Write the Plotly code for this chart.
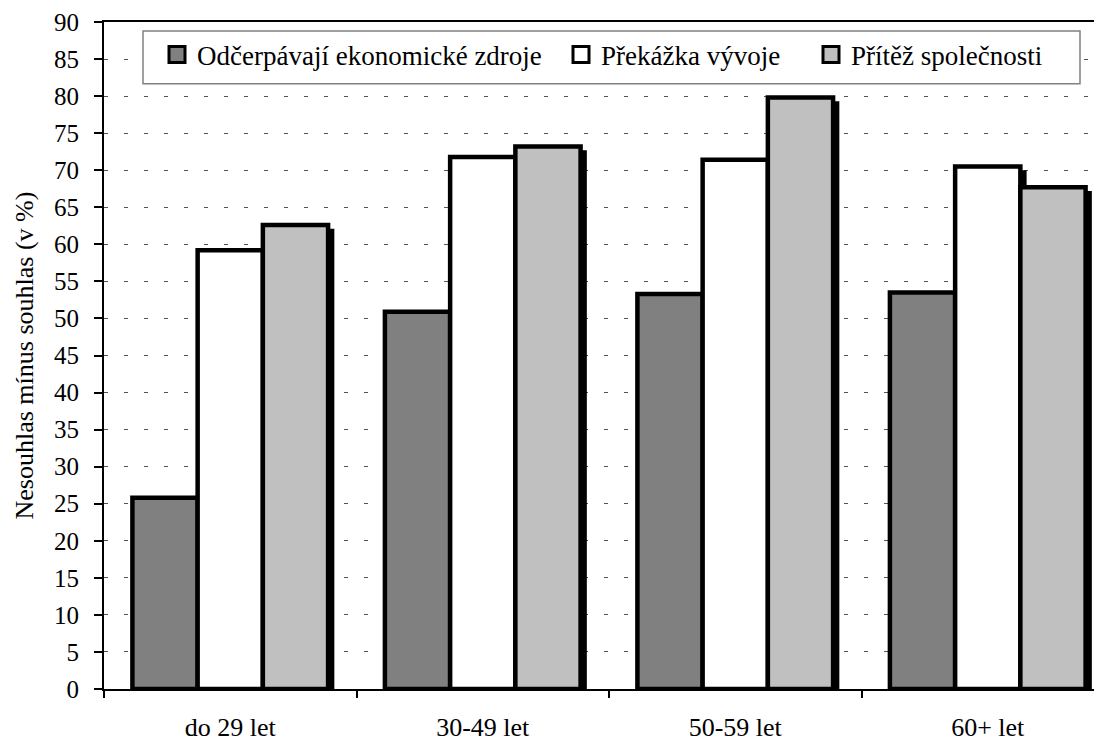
import plotly.graph_objects as go

categories = ["do 29 let", "30-49 let", "50-59 let", "60+ let"]
series_names = ["Odčerpávají ekonomické zdroje", "Překážka vývoje", "Přítěž společnosti"]
odcerpavaji = [25.8, 50.9, 53.3, 53.5]
prekazka = [59.2, 71.8, 71.4, 70.5]
pritez = [62.6, 73.2, 79.8, 67.7]
series_values = [odcerpavaji, prekazka, pritez]
colors = ["#808080", "#ffffff", "#c0c0c0"]
y_ticks = list(range(0, 95, 5))
y_title = "Nesouhlas mínus souhlas (v %)"

OFF = 8  # page body margin
WIN_W, WIN_H = 1102, 742
W, H = WIN_W - OFF, WIN_H - OFF
AX_LEFT, AX_TOP, AX_BOTTOM = 104, 22, 691  # window pixel positions of plot area
ML = AX_LEFT - OFF
MT = AX_TOP - OFF
MB = H - (AX_BOTTOM - OFF)
MR = 0
plot_w = W - ML - MR
plot_h = H - MT - MB
cat_px = 252.5
x_lo = -0.5
x_hi = x_lo + plot_w / cat_px
y_lo, y_hi = 0, 90

FONT = "Liberation Serif"
bargap = 0.225
n = len(series_values)
bw = (1 - bargap) / n
lw = 4.5

fig = go.Figure()

for i, (name, vals, col) in enumerate(zip(series_names, series_values, colors)):
    fig.add_trace(go.Bar(
        x=categories, y=vals, name=name, showlegend=False,
        marker=dict(color=col, line=dict(color="black", width=lw)),
    ))

# shadows (offset copies of each bar, drawn beneath bars)
dx = 4.0 / cat_px
dy = 6.0 * (y_hi - y_lo) / plot_h
for i, vals in enumerate(series_values):
    for k, v in enumerate(vals):
        c = k + (i - (n - 1) / 2) * bw
        fig.add_shape(type="rect", xref="x", yref="y",
                      x0=c - bw / 2 + dx, x1=c + bw / 2 + dx,
                      y0=y_lo, y1=v - dy,
                      fillcolor="black", line=dict(color="black", width=lw),
                      layer="between")


def px_to_paper_x(px):
    return (px - OFF - ML) / plot_w


def px_to_paper_y(py):
    return 1 - (py - OFF - MT) / plot_h


# legend box
fig.add_shape(type="rect", xref="paper", yref="paper",
              x0=px_to_paper_x(143), x1=px_to_paper_x(1080),
              y0=px_to_paper_y(84), y1=px_to_paper_y(31),
              fillcolor="white", line=dict(color="#808080", width=1.5),
              layer="above")

legend_x_px = [157, 561, 811]
legend_keys = ["legend", "legend2", "legend3"]
for name, col, key in zip(series_names, colors, legend_keys):
    fig.add_trace(go.Scatter(
        x=[None], y=[None], mode="markers", name=name, legend=key,
        marker=dict(symbol="square", size=16, color=col,
                    line=dict(color="black", width=3)),
    ))

layout_legends = {}
for key, lx in zip(legend_keys, legend_x_px):
    layout_legends[key] = dict(
        x=px_to_paper_x(lx), y=px_to_paper_y(55), xanchor="left", yanchor="middle",
        orientation="h", bgcolor="rgba(0,0,0,0)", borderwidth=0,
        font=dict(family=FONT, size=27, color="black"),
        itemwidth=30, tracegroupgap=0,
    )

fig.update_layout(
    width=W, height=H,
    margin=dict(l=ML, r=MR, t=MT, b=MB, pad=0),
    paper_bgcolor="white", plot_bgcolor="white",
    barmode="group", bargap=bargap, bargroupgap=0,
    font=dict(family=FONT, size=26, color="black"),
    **layout_legends,
)

fig.add_annotation(
    text=y_title, textangle=-90, showarrow=False,
    xref="paper", yref="paper",
    x=px_to_paper_x(24), y=px_to_paper_y((AX_TOP + AX_BOTTOM) / 2),
    xanchor="center", yanchor="middle",
    font=dict(family=FONT, size=26, color="black"),
)

fig.update_xaxes(
    type="category", range=[x_lo, x_hi],
    tickson="boundaries", ticks="outside", ticklen=7, tickwidth=1.5, tickcolor="black",
    ticklabelstandoff=14,
    showline=True, linecolor="black", linewidth=2, mirror=True,
    showgrid=False, zeroline=False,
    tickfont=dict(family=FONT, size=26, color="black"),
)
fig.update_yaxes(
    range=[y_lo, y_hi], tickvals=y_ticks, ticktext=[str(t) for t in y_ticks],
    ticks="outside", ticklen=8, tickwidth=1.5, tickcolor="black",
    ticklabelstandoff=10,
    showline=True, linecolor="black", linewidth=2, mirror=False,
    showgrid=True, gridcolor="#555555", gridwidth=1, griddash="4px,16px",
    zeroline=False,
    tickfont=dict(family=FONT, size=25, color="black"),
)

fig.write_html("out.html")
